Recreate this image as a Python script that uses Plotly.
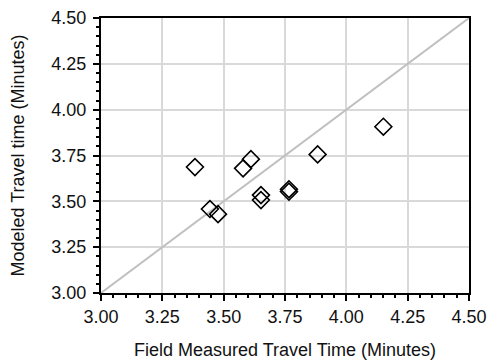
import plotly.graph_objects as go

field_measured = [3.383, 3.444, 3.477, 3.579, 3.611, 3.652, 3.652, 3.766, 3.766, 3.883, 4.151]
modeled = [3.687, 3.458, 3.430, 3.680, 3.730, 3.534, 3.507, 3.566, 3.553, 3.756, 3.907]
line_ref = [3.0, 4.5]
tick_vals = [3.0, 3.25, 3.5, 3.75, 4.0, 4.25, 4.5]
tick_text = ["3.00", "3.25", "3.50", "3.75", "4.00", "4.25", "4.50"]
x_title = "Field Measured Travel Time (Minutes)"
y_title = "Modeled Travel time (Minutes)"

fig = go.Figure()
fig.add_trace(go.Scatter(x=line_ref, y=line_ref, mode="lines",
                         line=dict(color="#c0c0c0", width=2), showlegend=False, hoverinfo="skip"))
fig.add_trace(go.Scatter(x=field_measured, y=modeled, mode="markers",
                         marker=dict(symbol="diamond-open", size=13, color="black",
                                     line=dict(color="black", width=1.6)),
                         showlegend=False))

axis_common = dict(
    range=[3.0, 4.5], tickvals=tick_vals, ticktext=tick_text,
    showgrid=True, gridcolor="#d9d9d9", gridwidth=1.5,
    showline=True, linecolor="black", linewidth=2, mirror=True,
    ticks="outside", ticklen=6, tickwidth=2, tickcolor="black",
    minor=dict(ticks="outside", ticklen=3, dtick=0.05, tickwidth=1.5, tickcolor="black", showgrid=False),
    zeroline=False, tickfont=dict(size=18, color="#111"), automargin=False,
)

fig.update_layout(
    width=489, height=362,
    margin=dict(l=101, r=20, t=18, b=69),
    paper_bgcolor="white", plot_bgcolor="white",
    font=dict(family="Liberation Sans, Arial, sans-serif", size=18, color="#111"),
    xaxis=dict(axis_common),
    yaxis=dict(axis_common, ticklabelstandoff=3),
    annotations=[
        dict(text=x_title, xref="paper", yref="paper", x=0.5, y=0, yanchor="middle",
             xanchor="center", yshift=-57, showarrow=False, font=dict(size=18, color="#111")),
        dict(text=y_title, xref="paper", yref="paper", x=0, y=0.5, xanchor="center",
             yanchor="middle", xshift=-84, textangle=-90, showarrow=False,
             font=dict(size=18, color="#111")),
    ],
)

fig.write_html("out.html")
